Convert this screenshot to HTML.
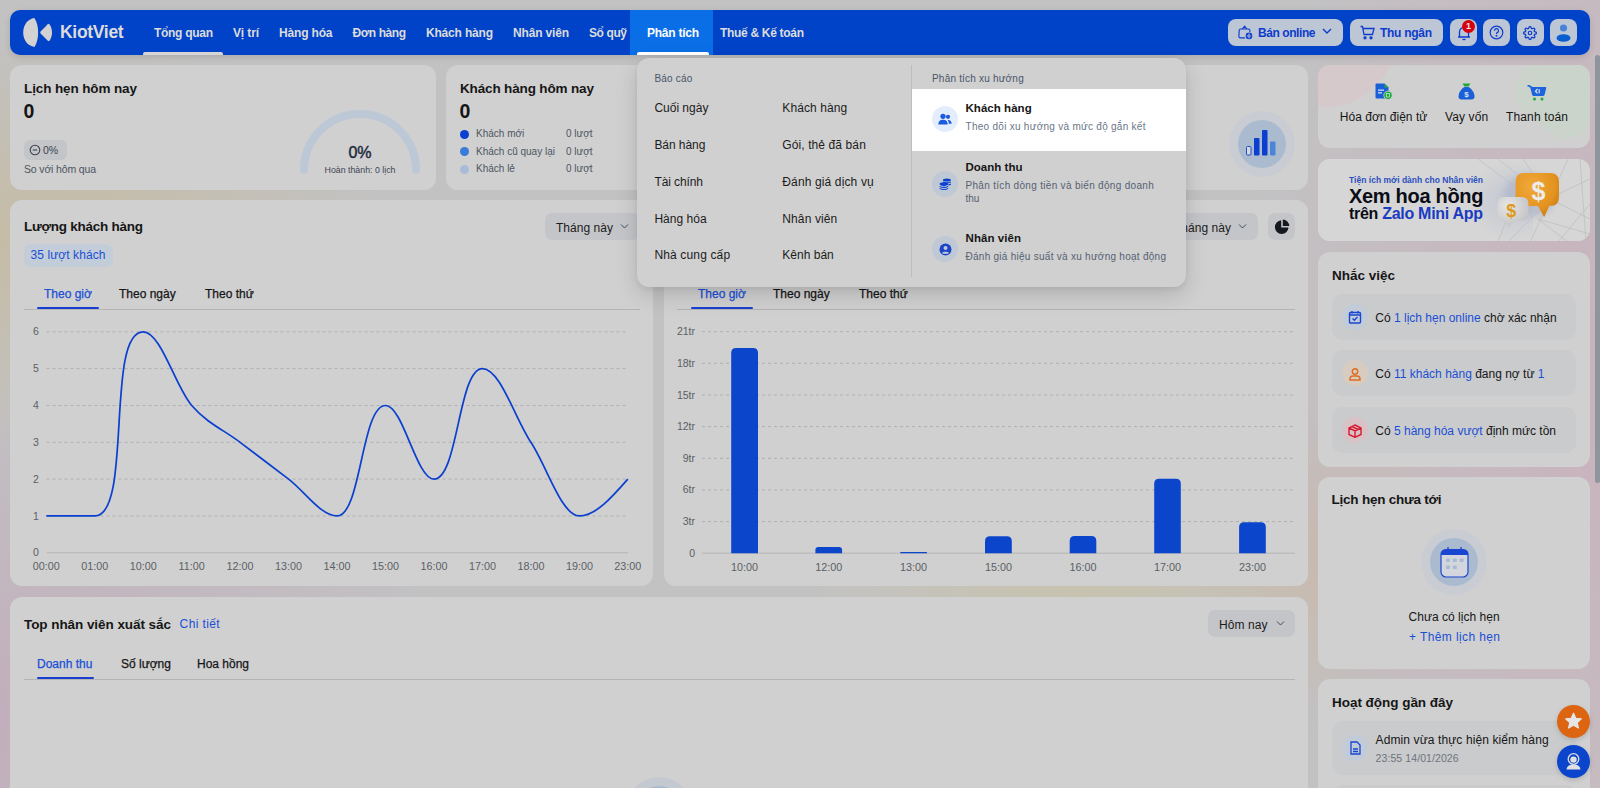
<!DOCTYPE html><html><head><meta charset="utf-8"><style>
*{box-sizing:border-box;margin:0;padding:0}
html,body{width:1600px;height:788px;overflow:hidden}
body{position:relative;font-family:"Liberation Sans", sans-serif;color:#161616;
background:
 radial-gradient(ellipse 460px 280px at 50px 240px, rgba(198,188,164,1), rgba(198,188,164,0) 75%),
 radial-gradient(ellipse 600px 440px at 0px 720px, rgba(194,174,188,1), rgba(194,174,188,0) 80%),
 radial-gradient(ellipse 380px 220px at 1080px 610px, rgba(200,195,172,0.95), rgba(200,195,172,0) 75%),
 radial-gradient(ellipse 200px 200px at 1310px 560px, rgba(200,184,174,0.9), rgba(200,184,174,0) 80%),
 radial-gradient(ellipse 480px 900px at 1620px 380px, rgba(201,178,188,1), rgba(201,178,188,0) 80%),
 #c2c2c3;}
.a{position:absolute}
.card{position:absolute;background:#d0d0d0;border-radius:12px}
.t{position:absolute;white-space:nowrap;line-height:1}
.b{font-weight:700}
</style></head><body>

<div class="a" style="left:10px;top:10px;width:1580px;height:45px;background:#0043c8;border-radius:10px;box-shadow:0 2px 6px rgba(0,0,0,0.12)"></div>
<div class="a" style="left:630px;top:10px;width:83px;height:45px;background:#0a6ee6"></div>
<svg class="a" style="left:18px;top:14px" width="40" height="38" viewBox="0 0 40 38">
<path d="M16.4,4 C9.5,5 5.2,11 5.2,18.5 C5.2,26 9.5,32 16.5,32.9 C19.3,28.5 20.1,23.5 20.1,18.5 C20.1,13.5 19.3,8.5 16.4,4 Z" fill="#d2d2d2"></path>
<path d="M22.6,17.6 L29.8,10.2 Q30.8,9.3 31.6,10.4 C33.3,12.8 34,15.6 34,18.4 C34,21.3 33.3,24.2 31.6,26.6 Q30.8,27.6 29.8,26.7 L22.6,19.4 Q21.9,18.5 22.6,17.6 Z" fill="#d2d2d2"></path>
</svg>
<div class="t b" style="left:60px;top:24px;font-size:17.5px;color:#dcdcdc;letter-spacing:-0.3px">KiotViet</div>
<div class="t b nav" style="left: 154px; top: 27px; font-size: 12px; color: rgb(220, 220, 220); letter-spacing: -0.291px;">Tổng quan</div>
<div class="t b nav" style="left: 233px; top: 27px; font-size: 12px; color: rgb(220, 220, 220); letter-spacing: -0.134px;">Vị trí</div>
<div class="t b nav" style="left: 279px; top: 27px; font-size: 12px; color: rgb(220, 220, 220); letter-spacing: -0.167px;">Hàng hóa</div>
<div class="t b nav" style="left: 352.5px; top: 27px; font-size: 12px; color: rgb(220, 220, 220); letter-spacing: -0.433px;">Đơn hàng</div>
<div class="t b nav" style="left: 426px; top: 27px; font-size: 12px; color: rgb(220, 220, 220); letter-spacing: -0.186px;">Khách hàng</div>
<div class="t b nav" style="left: 513px; top: 27px; font-size: 12px; color: rgb(220, 220, 220); letter-spacing: -0.17px;">Nhân viên</div>
<div class="t b nav" style="left: 589px; top: 27px; font-size: 12px; color: rgb(220, 220, 220); letter-spacing: -0.403px;">Sổ quỹ</div>
<div class="t b nav" style="left: 647px; top: 27px; font-size: 12px; color: rgb(255, 255, 255); letter-spacing: -0.252px;">Phân tích</div>
<div class="t b nav" style="left: 720px; top: 27px; font-size: 12px; color: rgb(220, 220, 220); letter-spacing: -0.309px;">Thuế &amp; Kế toán</div>
<div class="a" style="left:143px;top:52px;width:80px;height:3px;background:#d6d6d6;border-radius:2px 2px 0 0"></div>
<div class="a" style="left:637px;top:52px;width:72px;height:3px;background:#ffffff;border-radius:2px 2px 0 0"></div>
<div class="a" style="left:1228px;top:19px;width:115px;height:27px;background:#bcc6d5;border-radius:8px"></div>
<div class="a" style="left:1350px;top:19px;width:93px;height:27px;background:#bcc6d5;border-radius:8px"></div>
<div class="a" style="left:1450px;top:19px;width:27px;height:27px;background:#bcc6d5;border-radius:8px"></div>
<div class="a" style="left:1483px;top:19px;width:27px;height:27px;background:#bcc6d5;border-radius:8px"></div>
<div class="a" style="left:1517px;top:19px;width:27px;height:27px;background:#bcc6d5;border-radius:8px"></div>
<div class="a" style="left:1550px;top:19px;width:27px;height:27px;background:#bcc6d5;border-radius:8px"></div>
<svg class="a" style="left:1236px;top:24px" width="18" height="17" viewBox="0 0 18 17" fill="none" stroke="#0d3ccc" stroke-width="1.15" stroke-linejoin="round">
<path d="M6.3,5 L8.6,2.2 L10.9,5"></path><path d="M9,13.8 H4.2 Q2.8,13.8 2.9,12.4 L3.2,6.2 Q3.3,5 4.5,5 H12.5 Q13.7,5 13.8,6.2 L13.9,8"></path>
<circle cx="13" cy="11.9" r="3.3" fill="#0d3ccc" stroke="none"></circle><path d="M13,9.6 C11.8,10.8 11.8,13 13,14.2 C14.2,13 14.2,10.8 13,9.6 M10.8,11.9 H15.2" stroke="#bcc6d5" stroke-width="0.7"></path></svg>
<div class="t b" style="left: 1258px; top: 27px; font-size: 12px; color: rgb(13, 60, 204); letter-spacing: -0.427px;">Bán online</div>
<svg class="a" style="left:1322px;top:28px" width="10" height="7" viewBox="0 0 10 7" fill="none" stroke="#0d3ccc" stroke-width="1.4"><path d="M1,1 L5,5 L9,1"></path></svg>
<svg class="a" style="left:1360px;top:25px" width="15" height="15" viewBox="0 0 15 15" fill="none" stroke="#0d3ccc" stroke-width="1.3">
<path d="M0.5,1.5 h2 l1.5,8 h8.5 l1.5,-6 h-11"></path><circle cx="5" cy="12.8" r="1" fill="#0d3ccc"></circle><circle cx="11" cy="12.8" r="1" fill="#0d3ccc"></circle></svg>
<div class="t b" style="left: 1380px; top: 27px; font-size: 12px; color: rgb(13, 60, 204); letter-spacing: -0.286px;">Thu ngân</div>
<svg class="a" style="left:1457px;top:25px" width="14" height="16" viewBox="0 0 14 16" fill="none" stroke="#0d3ccc" stroke-width="1.3">
<path d="M2.5,12 V7 a4.5,4.5 0 0 1 9,0 V12 Z M1,12 h12"></path><path d="M5.5,14.5 h3"></path></svg>
<div class="a" style="left:1462px;top:20px;width:13px;height:13px;border-radius:50%;background:#d6000f"></div>
<div class="t b" style="left:1462px;top:22px;width:13px;text-align:center;font-size:9px;color:#e8e8e8">1</div>
<svg class="a" style="left:1489px;top:25px" width="15" height="15" viewBox="0 0 15 15" fill="none" stroke="#0d3ccc" stroke-width="1.2">
<circle cx="7.5" cy="7.5" r="6.3"></circle><path d="M5.5,5.7 a2,2 0 1 1 2.6,1.9 c-0.5,0.2 -0.6,0.6 -0.6,1.3"></path><circle cx="7.5" cy="10.8" r="0.4" fill="#0d3ccc"></circle></svg>
<svg class="a" style="left:1523.2px;top:25.7px" width="14" height="14" viewBox="0 0 24 24" fill="none" stroke="#0d3ccc" stroke-width="2.1">
<circle cx="12" cy="12" r="3"></circle><path d="M19.4 15a1.65 1.65 0 0 0 .33 1.82l.06.06a2 2 0 1 1-2.83 2.83l-.06-.06a1.65 1.65 0 0 0-1.82-.33 1.65 1.65 0 0 0-1 1.51V21a2 2 0 1 1-4 0v-.09A1.65 1.65 0 0 0 9 19.4a1.65 1.65 0 0 0-1.82.33l-.06.06a2 2 0 1 1-2.830-2.83l.06-.06a1.65 1.65 0 0 0 .33-1.82 1.65 1.65 0 0 0-1.51-1H3a2 2 0 1 1 0-4h.09A1.65 1.65 0 0 0 4.6 9a1.65 1.65 0 0 0-.33-1.82l-.06-.06a2 2 0 1 1 2.83-2.83l.06.06a1.65 1.65 0 0 0 1.82.33H9a1.65 1.65 0 0 0 1-1.51V3a2 2 0 1 1 4 0v.09a1.65 1.65 0 0 0 1 1.51 1.65 1.65 0 0 0 1.820-.33l.06-.06a2 2 0 1 1 2.83 2.83l-.06.06a1.65 1.65 0 0 0-.33 1.82V9a1.65 1.65 0 0 0 1.51 1H21a2 2 0 1 1 0 4h-.09a1.65 1.65 0 0 0-1.51 1z"></path></svg>
<svg class="a" style="left:1555px;top:23px" width="17" height="19" viewBox="0 0 17 19">
<circle cx="8.5" cy="5" r="3.6" fill="#4a82d8"></circle><ellipse cx="8.5" cy="15" rx="7" ry="3.8" fill="#0a5fd0"></ellipse></svg>
<div class="card" style="left:10px;top:65px;width:426px;height:125px"></div>
<div class="card" style="left:446px;top:65px;width:862px;height:125px"></div>
<div class="card" style="left:10px;top:200px;width:643px;height:386px"></div>
<div class="card" style="left:664px;top:200px;width:644px;height:386px"></div>
<div class="card" style="left:10px;top:597px;width:1298px;height:300px"></div>
<div class="card" style="left:1318px;top:65px;width:272px;height:83px"></div>
<div class="card" style="left:1318px;top:158.5px;width:272px;height:82.5px"></div>
<div class="card" style="left:1318px;top:251.5px;width:272px;height:215px"></div>
<div class="card" style="left:1318px;top:476.5px;width:272px;height:192.5px"></div>
<div class="card" style="left:1318px;top:679px;width:272px;height:300px"></div>
<div class="t b" style="left: 24px; top: 82px; font-size: 13.5px; letter-spacing: -0.118px;">Lịch hẹn hôm nay</div>
<div class="t" style="left:23.5px;top:102px;font-size:19.5px;font-weight:700">0</div>
<div class="a" style="left:24px;top:140px;width:43px;height:20px;background:#c4c5c8;border-radius:6px"></div>
<svg class="a" style="left:29px;top:144px" width="12" height="12" viewBox="0 0 12 12" fill="none" stroke="#3a4250" stroke-width="1.1"><circle cx="6" cy="6" r="4.8"></circle><path d="M3.8,6 h4.4"></path></svg>
<div class="t" style="left:43px;top:145px;font-size:10.5px;color:#3a4250">0%</div>
<div class="t" style="left: 24px; top: 164px; font-size: 10.5px; color: rgb(77, 85, 98); letter-spacing: -0.155px;">So với hôm qua</div>
<svg class="a" style="left:295px;top:105px" width="130" height="75" viewBox="0 0 130 75"><path d="M9,65 A56,56 0 0 1 121,65" fill="none" stroke="#bcc8d6" stroke-width="8" stroke-linecap="round"></path></svg>
<div class="t" style="left:320px;top:144.5px;width:80px;text-align:center;font-size:16px;-webkit-text-stroke:0.45px #1e2a3c;color:#1e2a3c">0%</div>
<div class="t" style="left:300px;top:166px;width:120px;text-align:center;font-size:8.8px;color:#3e4654">Hoàn thành: 0 lịch</div>
<div class="t b" style="left: 460px; top: 82px; font-size: 13.5px; letter-spacing: -0.149px;">Khách hàng hôm nay</div>
<div class="t" style="left:459.5px;top:102px;font-size:19.5px;font-weight:700">0</div>
<div class="a" style="left:460px;top:129.5px;width:9px;height:9px;border-radius:50%;background:#0a3fd0"></div>
<div class="t" style="left:476px;top:129.0px;font-size:10px;color:#4d5562">Khách mới</div>
<div class="t" style="left:566px;top:129.0px;font-size:10px;color:#4d5562">0 lượt</div>
<div class="a" style="left:460px;top:147.0px;width:9px;height:9px;border-radius:50%;background:#3a7ad8"></div>
<div class="t" style="left:476px;top:146.5px;font-size:10px;color:#4d5562">Khách cũ quay lại</div>
<div class="t" style="left:566px;top:146.5px;font-size:10px;color:#4d5562">0 lượt</div>
<div class="a" style="left:460px;top:164.5px;width:9px;height:9px;border-radius:50%;background:#a8bcd8"></div>
<div class="t" style="left:476px;top:164.0px;font-size:10px;color:#4d5562">Khách lẻ</div>
<div class="t" style="left:566px;top:164.0px;font-size:10px;color:#4d5562">0 lượt</div>
<div class="a" style="left:1229px;top:110.5px;width:66px;height:66px;border-radius:50%;background:#c9cdd3"></div>
<div class="a" style="left:1238px;top:119.5px;width:48px;height:48px;border-radius:50%;background:#aabbd0"></div>
<svg class="a" style="left:1244px;top:128px" width="34" height="30" viewBox="0 0 34 30"><rect x="2.5" y="18.5" width="4.5" height="8.5" rx="1" fill="#d8d8d8" stroke="#1b4fd0" stroke-width="1"></rect><rect x="10" y="10" width="5.5" height="17.5" rx="1" fill="#0a3fd0"></rect><rect x="18" y="2" width="5.5" height="25.5" rx="1" fill="#0a3fd0"></rect><rect x="26" y="13.5" width="5.5" height="14" rx="1" fill="#4d85d6"></rect></svg>
<div class="t b" style="left: 24px; top: 219.8px; font-size: 13.5px; letter-spacing: -0.259px;">Lượng khách hàng</div>
<div class="a" style="left:23.5px;top:243.5px;width:89px;height:23px;background:#c3cdd9;border-radius:7px"></div>
<div class="t" style="left: 30.5px; top: 249px; font-size: 12px; color: rgb(26, 79, 214); letter-spacing: 0.087px;">35 lượt khách</div>
<div class="a" style="left:545px;top:213px;width:95px;height:27px;background:#c4c5c8;border-radius:7px"></div>
<div class="t" style="left: 556px; top: 221.5px; font-size: 12px; color: rgb(28, 28, 28); letter-spacing: 0.035px;">Tháng này</div>
<svg class="a" style="left:620px;top:223px" width="9" height="7" viewBox="0 0 9 7" fill="none" stroke="#3d4a5c" stroke-width="1"><path d="M1,1.5 L4.5,5 L8,1.5"></path></svg>
<div class="t" style="left:44px;top:287.5px;font-size:12px;-webkit-text-stroke:0.25px #1a4fd6;color:#1a4fd6">Theo giờ</div>
<div class="t" style="left:119px;top:287.5px;font-size:12px;-webkit-text-stroke:0.25px #161616;color:#161616">Theo ngày</div>
<div class="t" style="left:205px;top:287.5px;font-size:12px;-webkit-text-stroke:0.25px #161616;color:#161616">Theo thứ</div>
<div class="a" style="left:23.5px;top:308.5px;width:616.5px;height:1px;background:#b4b4b4"></div>
<div class="a" style="left:36.7px;top:307.2px;width:62.3px;height:2.2px;background:#1a3fd0;border-radius:1px"></div>
<svg class="a" style="left:0;top:0" width="660" height="600" viewBox="0 0 660 600"><line x1="46.5" y1="516.0" x2="628" y2="516.0" stroke="#b0b0b0" stroke-width="1" stroke-dasharray="3,3"></line><line x1="46.5" y1="479.1" x2="628" y2="479.1" stroke="#b0b0b0" stroke-width="1" stroke-dasharray="3,3"></line><line x1="46.5" y1="442.3" x2="628" y2="442.3" stroke="#b0b0b0" stroke-width="1" stroke-dasharray="3,3"></line><line x1="46.5" y1="405.5" x2="628" y2="405.5" stroke="#b0b0b0" stroke-width="1" stroke-dasharray="3,3"></line><line x1="46.5" y1="368.6" x2="628" y2="368.6" stroke="#b0b0b0" stroke-width="1" stroke-dasharray="3,3"></line><line x1="46.5" y1="331.8" x2="628" y2="331.8" stroke="#b0b0b0" stroke-width="1" stroke-dasharray="3,3"></line><line x1="46.5" y1="552.8" x2="628" y2="552.8" stroke="#b4b4b4" stroke-width="1"></line><path d="M46.30,515.97C62.45,515.97 78.61,515.97 94.76,515.97C132.84,515.97 105.14,331.82 143.22,331.82C160.85,331.82 175.53,387.06 191.68,405.48C207.83,423.89 223.99,430.03 240.14,442.31C256.29,454.59 272.45,466.86 288.60,479.14C304.75,491.42 320.91,515.97 337.06,515.97C361.19,515.97 361.39,405.48 385.52,405.48C403.15,405.48 416.35,479.14 433.98,479.14C458.11,479.14 458.31,368.65 482.44,368.65C500.07,368.65 514.75,417.76 530.90,442.31C547.05,466.86 561.73,515.97 579.36,515.97C595.51,515.97 611.67,497.55 627.82,479.14" fill="none" stroke="#0a3fd0" stroke-width="1.7"></path></svg>
<div class="t" style="left:33px;top:547.3px;font-size:10.5px;color:#5a5f66">0</div>
<div class="t" style="left:33px;top:510.5px;font-size:10.5px;color:#5a5f66">1</div>
<div class="t" style="left:33px;top:473.6px;font-size:10.5px;color:#5a5f66">2</div>
<div class="t" style="left:33px;top:436.8px;font-size:10.5px;color:#5a5f66">3</div>
<div class="t" style="left:33px;top:400.0px;font-size:10.5px;color:#5a5f66">4</div>
<div class="t" style="left:33px;top:363.1px;font-size:10.5px;color:#5a5f66">5</div>
<div class="t" style="left:33px;top:326.3px;font-size:10.5px;color:#5a5f66">6</div>
<div class="t" style="left:26.3px;top:561px;width:40px;text-align:center;font-size:10.8px;color:#5a5f66">00:00</div>
<div class="t" style="left:74.8px;top:561px;width:40px;text-align:center;font-size:10.8px;color:#5a5f66">01:00</div>
<div class="t" style="left:123.2px;top:561px;width:40px;text-align:center;font-size:10.8px;color:#5a5f66">10:00</div>
<div class="t" style="left:171.7px;top:561px;width:40px;text-align:center;font-size:10.8px;color:#5a5f66">11:00</div>
<div class="t" style="left:220.1px;top:561px;width:40px;text-align:center;font-size:10.8px;color:#5a5f66">12:00</div>
<div class="t" style="left:268.6px;top:561px;width:40px;text-align:center;font-size:10.8px;color:#5a5f66">13:00</div>
<div class="t" style="left:317.1px;top:561px;width:40px;text-align:center;font-size:10.8px;color:#5a5f66">14:00</div>
<div class="t" style="left:365.5px;top:561px;width:40px;text-align:center;font-size:10.8px;color:#5a5f66">15:00</div>
<div class="t" style="left:414.0px;top:561px;width:40px;text-align:center;font-size:10.8px;color:#5a5f66">16:00</div>
<div class="t" style="left:462.4px;top:561px;width:40px;text-align:center;font-size:10.8px;color:#5a5f66">17:00</div>
<div class="t" style="left:510.9px;top:561px;width:40px;text-align:center;font-size:10.8px;color:#5a5f66">18:00</div>
<div class="t" style="left:559.4px;top:561px;width:40px;text-align:center;font-size:10.8px;color:#5a5f66">19:00</div>
<div class="t" style="left:607.8px;top:561px;width:40px;text-align:center;font-size:10.8px;color:#5a5f66">23:00</div>
<div class="a" style="left:1163px;top:213px;width:95px;height:27px;background:#c4c5c8;border-radius:7px"></div>
<div class="t" style="left: 1174px; top: 221.5px; font-size: 12px; color: rgb(28, 28, 28); letter-spacing: 0.035px;">Tháng này</div>
<svg class="a" style="left:1238px;top:223px" width="9" height="7" viewBox="0 0 9 7" fill="none" stroke="#3d4a5c" stroke-width="1"><path d="M1,1.5 L4.5,5 L8,1.5"></path></svg>
<div class="a" style="left:1268px;top:213px;width:27px;height:27px;background:#c4c5c8;border-radius:7px"></div>
<svg class="a" style="left:1274px;top:219px" width="16" height="16" viewBox="0 0 16 16"><path d="M7.2,1.3 A6.8,6.8 0 1 0 14.5,8.6 H7.2 Z" fill="#15181e"></path><path d="M8.8,0.6 A6.6,6.6 0 0 1 15.2,7 H8.8 Z" fill="#15181e"></path></svg>
<div class="t" style="left:698px;top:287.5px;font-size:12px;-webkit-text-stroke:0.25px #1a4fd6;color:#1a4fd6">Theo giờ</div>
<div class="t" style="left:773px;top:287.5px;font-size:12px;-webkit-text-stroke:0.25px #161616;color:#161616">Theo ngày</div>
<div class="t" style="left:859px;top:287.5px;font-size:12px;-webkit-text-stroke:0.25px #161616;color:#161616">Theo thứ</div>
<div class="a" style="left:677px;top:308.5px;width:618px;height:1px;background:#b4b4b4"></div>
<div class="a" style="left:691px;top:307.2px;width:62px;height:2.2px;background:#1a3fd0;border-radius:1px"></div>
<svg class="a" style="left:0;top:0" width="1320" height="600" viewBox="0 0 1320 600"><line x1="702" y1="521.6" x2="1295" y2="521.6" stroke="#b0b0b0" stroke-width="1" stroke-dasharray="3,3"></line><line x1="702" y1="489.9" x2="1295" y2="489.9" stroke="#b0b0b0" stroke-width="1" stroke-dasharray="3,3"></line><line x1="702" y1="458.3" x2="1295" y2="458.3" stroke="#b0b0b0" stroke-width="1" stroke-dasharray="3,3"></line><line x1="702" y1="426.6" x2="1295" y2="426.6" stroke="#b0b0b0" stroke-width="1" stroke-dasharray="3,3"></line><line x1="702" y1="395.0" x2="1295" y2="395.0" stroke="#b0b0b0" stroke-width="1" stroke-dasharray="3,3"></line><line x1="702" y1="363.3" x2="1295" y2="363.3" stroke="#b0b0b0" stroke-width="1" stroke-dasharray="3,3"></line><line x1="702" y1="331.7" x2="1295" y2="331.7" stroke="#b0b0b0" stroke-width="1" stroke-dasharray="3,3"></line><line x1="702" y1="553.2" x2="1295" y2="553.2" stroke="#b4b4b4" stroke-width="1"></line><path d="M731.2,553.2 V353.1 Q731.2,348.1 736.2,348.1 H753.0 Q758.0,348.1 758.0,353.1 V553.2 Z" fill="#0a45cc"></path><path d="M815.4,553.2 V550.1 Q815.4,547.0 818.5,547.0 H839.0 Q842.1,547.0 842.1,550.1 V553.2 Z" fill="#0a45cc"></path><path d="M900.2,553.2 V552.6 Q900.2,552.0 900.9,552.0 H926.4 Q927.0,552.0 927.0,552.6 V553.2 Z" fill="#0a45cc"></path><path d="M985.0,553.2 V541.2 Q985.0,536.2 990.0,536.2 H1006.8 Q1011.8,536.2 1011.8,541.2 V553.2 Z" fill="#0a45cc"></path><path d="M1069.7,553.2 V541.0 Q1069.7,536.0 1074.7,536.0 H1091.3 Q1096.3,536.0 1096.3,541.0 V553.2 Z" fill="#0a45cc"></path><path d="M1154.2,553.2 V483.7 Q1154.2,478.7 1159.2,478.7 H1175.8 Q1180.8,478.7 1180.8,483.7 V553.2 Z" fill="#0a45cc"></path><path d="M1239.1,553.2 V527.3 Q1239.1,522.3 1244.1,522.3 H1260.8 Q1265.8,522.3 1265.8,527.3 V553.2 Z" fill="#0a45cc"></path></svg>
<div class="t" style="left:655px;top:547.7px;width:40px;text-align:right;font-size:10.5px;color:#5a5f66">0</div>
<div class="t" style="left:655px;top:516.1px;width:40px;text-align:right;font-size:10.5px;color:#5a5f66">3tr</div>
<div class="t" style="left:655px;top:484.4px;width:40px;text-align:right;font-size:10.5px;color:#5a5f66">6tr</div>
<div class="t" style="left:655px;top:452.8px;width:40px;text-align:right;font-size:10.5px;color:#5a5f66">9tr</div>
<div class="t" style="left:655px;top:421.1px;width:40px;text-align:right;font-size:10.5px;color:#5a5f66">12tr</div>
<div class="t" style="left:655px;top:389.5px;width:40px;text-align:right;font-size:10.5px;color:#5a5f66">15tr</div>
<div class="t" style="left:655px;top:357.8px;width:40px;text-align:right;font-size:10.5px;color:#5a5f66">18tr</div>
<div class="t" style="left:655px;top:326.2px;width:40px;text-align:right;font-size:10.5px;color:#5a5f66">21tr</div>
<div class="t" style="left:724.6px;top:561.5px;width:40px;text-align:center;font-size:10.8px;color:#5a5f66">10:00</div>
<div class="t" style="left:808.8px;top:561.5px;width:40px;text-align:center;font-size:10.8px;color:#5a5f66">12:00</div>
<div class="t" style="left:893.6px;top:561.5px;width:40px;text-align:center;font-size:10.8px;color:#5a5f66">13:00</div>
<div class="t" style="left:978.4px;top:561.5px;width:40px;text-align:center;font-size:10.8px;color:#5a5f66">15:00</div>
<div class="t" style="left:1063.0px;top:561.5px;width:40px;text-align:center;font-size:10.8px;color:#5a5f66">16:00</div>
<div class="t" style="left:1147.5px;top:561.5px;width:40px;text-align:center;font-size:10.8px;color:#5a5f66">17:00</div>
<div class="t" style="left:1232.4px;top:561.5px;width:40px;text-align:center;font-size:10.8px;color:#5a5f66">23:00</div>
<div class="t b" style="left: 24px; top: 617.5px; font-size: 13.5px; letter-spacing: -0.062px;">Top nhân viên xuất sắc</div>
<div class="t" style="left: 179.6px; top: 618px; font-size: 12px; font-weight: 500; color: rgb(26, 79, 214); letter-spacing: 0.377px;">Chi tiết</div>
<div class="a" style="left:1208px;top:610px;width:87px;height:27px;background:#c4c5c8;border-radius:7px"></div>
<div class="t" style="left: 1219px; top: 618.5px; font-size: 12px; color: rgb(28, 28, 28); letter-spacing: 0.078px;">Hôm nay</div>
<svg class="a" style="left:1276px;top:620px" width="9" height="7" viewBox="0 0 9 7" fill="none" stroke="#3d4a5c" stroke-width="1"><path d="M1,1.5 L4.5,5 L8,1.5"></path></svg>
<div class="t" style="left:37px;top:657.5px;font-size:12px;-webkit-text-stroke:0.25px #1a4fd6;color:#1a4fd6">Doanh thu</div>
<div class="t" style="left:121px;top:657.5px;font-size:12px;-webkit-text-stroke:0.25px #161616;color:#161616">Số lượng</div>
<div class="t" style="left:197px;top:657.5px;font-size:12px;-webkit-text-stroke:0.25px #161616;color:#161616">Hoa hồng</div>
<div class="a" style="left:23.5px;top:678.5px;width:1271.5px;height:1px;background:#b4b4b4"></div>
<div class="a" style="left:37px;top:677.2px;width:57px;height:2.2px;background:#1a3fd0;border-radius:1px"></div>
<div class="a" style="left:626px;top:776.5px;width:66px;height:66px;border-radius:50%;background:#c4c9d1"></div>
<div class="a" style="left:635px;top:785.5px;width:48px;height:48px;border-radius:50%;background:#a9bad0"></div>
<div class="a" style="left:637px;top:58px;width:549px;height:229px;background:#d0d0d0;border-radius:12px;box-shadow:0 8px 22px rgba(0,0,0,0.15),0 2px 5px rgba(0,0,0,0.06);overflow:hidden"><div class="a" style="left:273.5px;top:30.5px;width:276px;height:62.5px;background:#ffffff"></div><div class="a" style="left:274px;top:7px;width:1px;height:212px;background:#bdbdbd"></div></div>
<div class="t" style="left: 654.4px; top: 73.5px; font-size: 10px; color: rgb(74, 85, 104); letter-spacing: 0.199px;">Báo cáo</div>
<div class="t" style="left: 932px; top: 73.5px; font-size: 10px; color: rgb(74, 85, 104); letter-spacing: 0.199px;">Phân tích xu hướng</div>
<div class="t" style="left: 654.4px; top: 102px; font-size: 12px; color: rgb(28, 28, 28); letter-spacing: -0.006px;">Cuối ngày</div>
<div class="t" style="left: 782.3px; top: 102px; font-size: 12px; color: rgb(28, 28, 28); letter-spacing: 0.104px;">Khách hàng</div>
<div class="t" style="left: 654.4px; top: 138.8px; font-size: 12px; color: rgb(28, 28, 28); letter-spacing: -0.056px;">Bán hàng</div>
<div class="t" style="left: 782.3px; top: 138.8px; font-size: 12px; color: rgb(28, 28, 28); letter-spacing: 0.103px;">Gói, thẻ đã bán</div>
<div class="t" style="left: 654.4px; top: 175.7px; font-size: 12px; color: rgb(28, 28, 28); letter-spacing: -0.095px;">Tài chính</div>
<div class="t" style="left: 782.3px; top: 175.7px; font-size: 12px; color: rgb(28, 28, 28); letter-spacing: 0.134px;">Đánh giá dịch vụ</div>
<div class="t" style="left: 654.4px; top: 212.6px; font-size: 12px; color: rgb(28, 28, 28); letter-spacing: 0.022px;">Hàng hóa</div>
<div class="t" style="left: 782.3px; top: 212.6px; font-size: 12px; color: rgb(28, 28, 28); letter-spacing: 0.119px;">Nhân viên</div>
<div class="t" style="left: 654.4px; top: 249.4px; font-size: 12px; color: rgb(28, 28, 28); letter-spacing: 0.149px;">Nhà cung cấp</div>
<div class="t" style="left: 782.3px; top: 249.4px; font-size: 12px; color: rgb(28, 28, 28); letter-spacing: 0.016px;">Kênh bán</div>
<div class="a" style="left:932px;top:106px;width:26px;height:26px;border-radius:50%;background:#e4edfb"></div>
<div class="t b" style="left: 965.5px; top: 102.5px; font-size: 11.5px; color: rgb(22, 22, 22); letter-spacing: 0.043px;">Khách hàng</div>
<div class="t" style="left: 965.5px; top: 121.5px; font-size: 10px; color: rgb(106, 118, 136); letter-spacing: 0.276px;">Theo dõi xu hướng và mức độ gắn kết</div>
<div class="a" style="left:932px;top:171px;width:26px;height:26px;border-radius:50%;background:#bfc9d6"></div>
<div class="t b" style="left: 965.5px; top: 161.5px; font-size: 11.5px; color: rgb(22, 22, 22); letter-spacing: 0.018px;">Doanh thu</div>
<div class="t" style="left: 965.5px; top: 180.5px; font-size: 10px; color: rgb(86, 97, 114); letter-spacing: 0.308px;">Phân tích dòng tiền và biến động doanh</div>
<div class="t" style="left:965.5px;top:194px;font-size:10px;color:#566172">thu</div>
<div class="a" style="left:932px;top:236px;width:26px;height:26px;border-radius:50%;background:#bfc9d6"></div>
<div class="t b" style="left: 965.5px; top: 232.5px; font-size: 11.5px; color: rgb(22, 22, 22); letter-spacing: 0.079px;">Nhân viên</div>
<div class="t" style="left: 965.5px; top: 251.5px; font-size: 10px; color: rgb(86, 97, 114); letter-spacing: 0.268px;">Đánh giá hiệu suất và xu hướng hoạt động</div>
<svg class="a" style="left:938px;top:112.5px" width="14" height="13" viewBox="0 0 14 13"><circle cx="5" cy="3.3" r="2.6" fill="#1a5be0"></circle><path d="M0.3,11.5 C0.5,7.8 2.5,6.8 5,6.8 C7.5,6.8 9.5,7.8 9.7,11.5 Z" fill="#1a5be0"></path><circle cx="10" cy="3.8" r="2.1" fill="#1a5be0"></circle><path d="M10.3,6.9 C12.3,7 13.6,8.2 13.7,10.8 H10.8 C10.8,9 10.4,7.8 9.6,7.0 Z" fill="#1a5be0"></path></svg>
<svg class="a" style="left:936px;top:176px" width="18" height="16" viewBox="0 0 18 16" fill="#0a3fd0"><ellipse cx="10.9" cy="4" rx="4" ry="1.6"></ellipse><path d="M6.9,5.4 Q10.9,7.2 14.9,5.4 V6.6 Q10.9,8.4 6.9,6.6Z"></path><path d="M12.3,8.3 Q13.9,8.1 14.9,7.5 V8.8 Q13.9,9.4 12.3,9.6Z"></path><ellipse cx="7.9" cy="8.1" rx="4.3" ry="1.8"></ellipse><path d="M3.6,9.9 Q7.9,11.7 12.2,9.9 V11.1 Q7.9,12.9 3.6,11.1Z"></path><path d="M3.6,12 Q7.9,13.8 12.2,12 V13 Q7.9,14.8 3.6,13Z"></path></svg>
<svg class="a" style="left:938.5px;top:242.5px" width="13" height="13" viewBox="0 0 13 13"><circle cx="6.5" cy="6.5" r="6" fill="#1a45c8"></circle><circle cx="6.5" cy="5" r="2" fill="#bfc9d6"></circle><path d="M3,10 C3.8,8.2 9.2,8.2 10,10 C9,11.2 4,11.2 3,10Z" fill="#bfc9d6"></path></svg>
<div class="a" style="left:1318px;top:65px;width:272px;height:83px;border-radius:12px;overflow:hidden"><div class="a" style="left:-62px;top:-98px;width:140px;height:140px;border-radius:50%;background:#d5c9cb"></div><div class="a" style="left:204px;top:-18px;width:84px;height:84px;border-radius:24px;background:#cad4cb;transform:rotate(38deg)"></div></div>
<svg class="a" style="left:1375px;top:83px" width="18" height="17" viewBox="0 0 18 17"><path d="M1.5,0.5 H9.5 L13.5,4.5 V14.5 Q13.5,15.5 12.5,15.5 H1.5 Q0.5,15.5 0.5,14.5 V1.5 Q0.5,0.5 1.5,0.5Z" fill="#1a5ed8"></path><path d="M9.5,0.5 L13.5,4.5 H9.5Z" fill="#22aa44"></path><rect x="3" y="6.5" width="6" height="1.3" fill="#d0ddf2"></rect><rect x="3" y="9.2" width="4" height="1.3" fill="#d0ddf2"></rect><circle cx="13" cy="12.3" r="4.2" fill="#1eaa3c" stroke="#d3d3d3" stroke-width="0.8"></circle><rect x="11.6" y="10.6" width="2.8" height="3.4" fill="none" stroke="#d0eed6" stroke-width="0.7"></rect></svg>
<svg class="a" style="left:1458px;top:83px" width="17" height="17" viewBox="0 0 17 17"><path d="M4.5,0.5 H12.5 L10.5,3.5 H6.5Z" fill="#20a83a"></path><path d="M6.5,4 H10.5 C14,6 16.5,10 16.5,13.5 Q16.5,16.5 13.5,16.5 H3.5 Q0.5,16.5 0.5,13.5 C0.5,10 3,6 6.5,4Z" fill="#1a5ed8"></path><text x="8.5" y="13.5" font-size="8" font-weight="700" text-anchor="middle" fill="#d8e2f4" font-family="Liberation Sans">$</text></svg>
<svg class="a" style="left:1527px;top:83.5px" width="20" height="17" viewBox="0 0 20 17"><path d="M0.5,1 Q2.5,0.5 4,2 L5.5,3 H18.5 Q19.5,3 19.2,4.2 L17.5,11 Q17.2,12 16,12 H6.5 Q5.5,12 5.2,11 L3.2,3.5 Q2,2.5 0.5,2.5Z" fill="#1e63de"></path><path d="M10.5,5 L8.5,7.2 L10.5,9.4 M12.2,5.2 V9.2" stroke="#dbe5f5" stroke-width="1.2" fill="none"></path><circle cx="7.5" cy="15" r="1.5" fill="#20a83a"></circle><circle cx="15" cy="15" r="1.5" fill="#20a83a"></circle></svg>
<div class="t" style="left: 1339.8px; top: 111px; font-size: 12px; color: rgb(22, 22, 22); letter-spacing: 0.015px;">Hóa đơn điện tử</div>
<div class="t" style="left: 1445.1px; top: 111px; font-size: 12px; color: rgb(22, 22, 22); letter-spacing: 0.089px;">Vay vốn</div>
<div class="t" style="left: 1506px; top: 111px; font-size: 12px; color: rgb(22, 22, 22); letter-spacing: 0.142px;">Thanh toán</div>
<div class="a" style="left:1318px;top:158.5px;width:272px;height:82.5px;border-radius:12px;overflow:hidden;background:#d6d6d6"><svg class="a" style="left:0;top:0" width="272" height="83" viewBox="0 0 272 83" fill="none" stroke="#b9b9b9" stroke-width="0.6"><path d="M180,0 L230,40 L272,20 M205,0 L232,40 L212,83 M232,40 L272,60 M250,0 L232,40 M262,0 L268,83 M232,40 L190,83 M160,0 L200,30 L230,40 M200,30 L180,83 M240,83 L272,45 M272,75 L220,60 L250,83"></path></svg><div class="a" style="left:125px;top:0;width:90px;height:83px;background:radial-gradient(ellipse 45px 40px at 70px 42px, rgba(190,196,210,0.9), rgba(214,214,214,0) 100%)"></div></div>
<div class="t" style="left: 1349px; top: 176px; font-size: 8.5px; font-weight: 700; color: rgb(44, 79, 192); letter-spacing: 0.02px;">Tiện ích mới dành cho Nhân viên</div>
<div class="t b" style="left: 1349px; top: 186.1px; font-size: 20px; color: rgb(10, 12, 22); letter-spacing: -0.3px;">Xem hoa hồng</div>
<div class="t b" style="left: 1349px; top: 206px; font-size: 16px; color: rgb(10, 12, 22); letter-spacing: -0.291px;">trên <span style="color:#1a3cc0">Zalo Mini App</span></div>
<svg class="a" style="left:1488px;top:165px" width="80" height="70" viewBox="0 0 80 70"><defs><radialGradient id="og" cx="0.35" cy="0.3" r="0.8"><stop offset="0" stop-color="#f0a838"></stop><stop offset="0.7" stop-color="#e3931f"></stop><stop offset="1" stop-color="#c97a12"></stop></radialGradient><radialGradient id="wg" cx="0.35" cy="0.3" r="0.8"><stop offset="0" stop-color="#e6e6e6"></stop><stop offset="1" stop-color="#c0c0c2"></stop></radialGradient><filter id="bl" x="-50%" y="-50%" width="200%" height="200%"><feGaussianBlur stdDeviation="3"></feGaussianBlur></filter></defs><ellipse cx="42" cy="30" rx="26" ry="22" fill="#aeb6c8" opacity="0.7" filter="url(#bl)"></ellipse><path d="M36,8 H62 Q71,8 71,17 V32 Q71,41 62,41 H62 L61.7,40 L56.5,51.6 Q56,52 55.8,51.4 L50,41 H36 Q27.6,41 27.6,32 V17 Q27.6,8 36,8 Z" fill="url(#og)"></path><text x="50.5" y="35" font-size="25" font-weight="700" text-anchor="middle" fill="#ececec" font-family="Liberation Sans">$</text><path d="M16,32 H33 Q40.4,32 40.4,39 V49 Q40.4,56 33,56 H27 L20.5,62 Q20,62.5 19.8,61.8 L17.5,56 H16 Q9.5,56 9.5,49 V39 Q9.5,32 16,32 Z" fill="url(#wg)"></path><text x="23.3" y="52" font-size="18" font-weight="700" text-anchor="middle" fill="#de9a1a" font-family="Liberation Sans">$</text></svg>
<div class="t b" style="left: 1332px; top: 269px; font-size: 13.5px; letter-spacing: -0.006px;">Nhắc việc</div>
<div class="a" style="left:1332px;top:293.50px;width:244px;height:46px;background:#cacbcd;border-radius:10px"></div>
<div class="a" style="left:1342px;top:303.50px;width:26px;height:26px;border-radius:50%;background:#c2ccd9"></div>
<div class="t" style="left:1375.3px;top:311.50px;font-size:12px;color:#161616">Có <span style="color:#1a4fd6">1 lịch hẹn online</span> chờ xác nhận</div>
<div class="a" style="left:1332px;top:350.25px;width:244px;height:46px;background:#cacbcd;border-radius:10px"></div>
<div class="a" style="left:1342px;top:360.25px;width:26px;height:26px;border-radius:50%;background:#d8ccc0"></div>
<div class="t" style="left:1375.3px;top:368.25px;font-size:12px;color:#161616">Có <span style="color:#1a4fd6">11 khách hàng</span> đang nợ từ <span style="color:#1a4fd6">1</span></div>
<div class="a" style="left:1332px;top:407.00px;width:244px;height:46px;background:#cacbcd;border-radius:10px"></div>
<div class="a" style="left:1342px;top:417.00px;width:26px;height:26px;border-radius:50%;background:#d8c2c6"></div>
<div class="t" style="left:1375.3px;top:425.00px;font-size:12px;color:#161616">Có <span style="color:#1a4fd6">5 hàng hóa vượt</span> định mức tồn</div>
<svg class="a" style="left:1348px;top:310px" width="14" height="14" viewBox="0 0 14 14" fill="none" stroke="#1a45d0" stroke-width="1.4"><rect x="1.5" y="2.5" width="11" height="10.5" rx="1"></rect><path d="M4,1 V3.5 M10,1 V3.5 M1.5,5 H12.5"></path><path d="M4.5,8.5 L6.3,10.2 L9.5,7"></path></svg>
<svg class="a" style="left:1348px;top:367px" width="14" height="14" viewBox="0 0 14 14" fill="none" stroke="#e06a20" stroke-width="1.4"><circle cx="7" cy="4.5" r="2.7"></circle><path d="M2,13 V12 Q2,9 5,9 H9 Q12,9 12,12 V13 Z"></path></svg>
<svg class="a" style="left:1348px;top:423.5px" width="14" height="14" viewBox="0 0 14 14" fill="none" stroke="#d81830" stroke-width="1.4"><path d="M7,1 L13,4 V10.5 L7,13.3 L1,10.5 V4 Z M1,4 L7,7 L13,4 M7,7 V13.3 M4,2.5 L10,5.5"></path></svg>
<div class="t b" style="left: 1331.6px; top: 493px; font-size: 13.5px; letter-spacing: -0.243px;">Lịch hẹn chưa tới</div>
<div class="a" style="left:1421px;top:528.6px;width:66px;height:66px;border-radius:50%;background:#c9cdd3"></div>
<div class="a" style="left:1430px;top:537.6px;width:48px;height:48px;border-radius:50%;background:#aabbd0"></div>
<svg class="a" style="left:1439.5px;top:546px" width="29" height="32" viewBox="0 0 29 32"><rect x="1" y="3.5" width="27" height="27.5" rx="5" fill="#d3d6dc" stroke="#1a45d0" stroke-width="1.2"></rect><path d="M1,9 V8.5 Q1,3.5 6,3.5 H23 Q28,3.5 28,8.5 V9 Z" fill="#1a45d0"></path><path d="M8,1 V5 M21,1 V5" stroke="#1a45d0" stroke-width="1.3"></path><rect x="6" y="12.5" width="4" height="3.6" rx="0.8" fill="#a9bad2"></rect><rect x="12.8" y="12.5" width="4" height="3.6" rx="0.8" fill="#a9bad2"></rect><rect x="19.6" y="12.5" width="4" height="3.6" rx="0.8" fill="#a9bad2"></rect><rect x="6" y="19.5" width="4" height="3.6" rx="0.8" fill="#a9bad2"></rect><rect x="12.8" y="19.5" width="4" height="3.6" rx="0.8" fill="#a9bad2"></rect></svg>
<div class="t" style="left: 1408.6px; top: 611px; font-size: 12px; color: rgb(22, 22, 22); letter-spacing: 0.017px;">Chưa có lịch hẹn</div>
<div class="t" style="left: 1409px; top: 631px; font-size: 12px; font-weight: 500; color: rgb(26, 79, 214); letter-spacing: 0.393px;">+ Thêm lịch hẹn</div>
<div class="t b" style="left: 1332px; top: 696px; font-size: 13.5px; letter-spacing: -0.031px;">Hoạt động gần đây</div>
<div class="a" style="left:1332px;top:721px;width:244px;height:53.5px;background:#cacbcd;border-radius:10px"></div>
<div class="a" style="left:1332px;top:785px;width:244px;height:40px;background:#cacbcd;border-radius:10px"></div>
<div class="a" style="left:1342px;top:735px;width:26px;height:26px;border-radius:50%;background:#c2ccd9"></div>
<svg class="a" style="left:1349.5px;top:741px" width="11" height="14" viewBox="0 0 11 14" fill="none" stroke="#1a45d0" stroke-width="1.3"><path d="M1,1 H7 L10,4 V13 H1 Z M3,8 H8 M3,10.5 H8"></path></svg>
<div class="t" style="left: 1375.6px; top: 734px; font-size: 12px; color: rgb(22, 22, 22); letter-spacing: 0.102px;">Admin vừa thực hiện kiểm hàng</div>
<div class="t" style="left: 1375.6px; top: 752.5px; font-size: 10.5px; color: rgb(110, 115, 123); letter-spacing: 0.083px;">23:55 14/01/2026</div>
<div class="a" style="left:1556.8px;top:704.9px;width:33.2px;height:33.2px;border-radius:50%;background:#dd6410;box-shadow:0 2px 5px rgba(0,0,0,0.15)"></div>
<svg class="a" style="left:1564px;top:712px" width="19" height="18" viewBox="0 0 24 23"><path d="M12,1.5 L15,8 L22,8.8 L16.8,13.5 L18.3,20.5 L12,17 L5.7,20.5 L7.2,13.5 L2,8.8 L9,8 Z" fill="#e6e6e6" stroke="#e6e6e6" stroke-width="1.5" stroke-linejoin="round"></path></svg>
<div class="a" style="left:1556.8px;top:744.8px;width:33.2px;height:33.2px;border-radius:50%;background:#0a45cc;box-shadow:0 2px 5px rgba(0,0,0,0.15)"></div>
<svg class="a" style="left:1563px;top:751px" width="21" height="21" viewBox="0 0 21 21"><circle cx="10.5" cy="8" r="5.3" fill="none" stroke="#e0e0e0" stroke-width="1.3"></circle><circle cx="10.5" cy="8.6" r="3.2" fill="#e0e0e0"></circle><path d="M3.5,18.5 Q4,13.5 10.5,13.5 Q17,13.5 17.5,18.5 Z" fill="#e0e0e0"></path></svg>
<div class="a" style="left:1595px;top:55px;width:5px;height:428px;background:#8f959c;border-radius:3px"></div>
</body></html>
